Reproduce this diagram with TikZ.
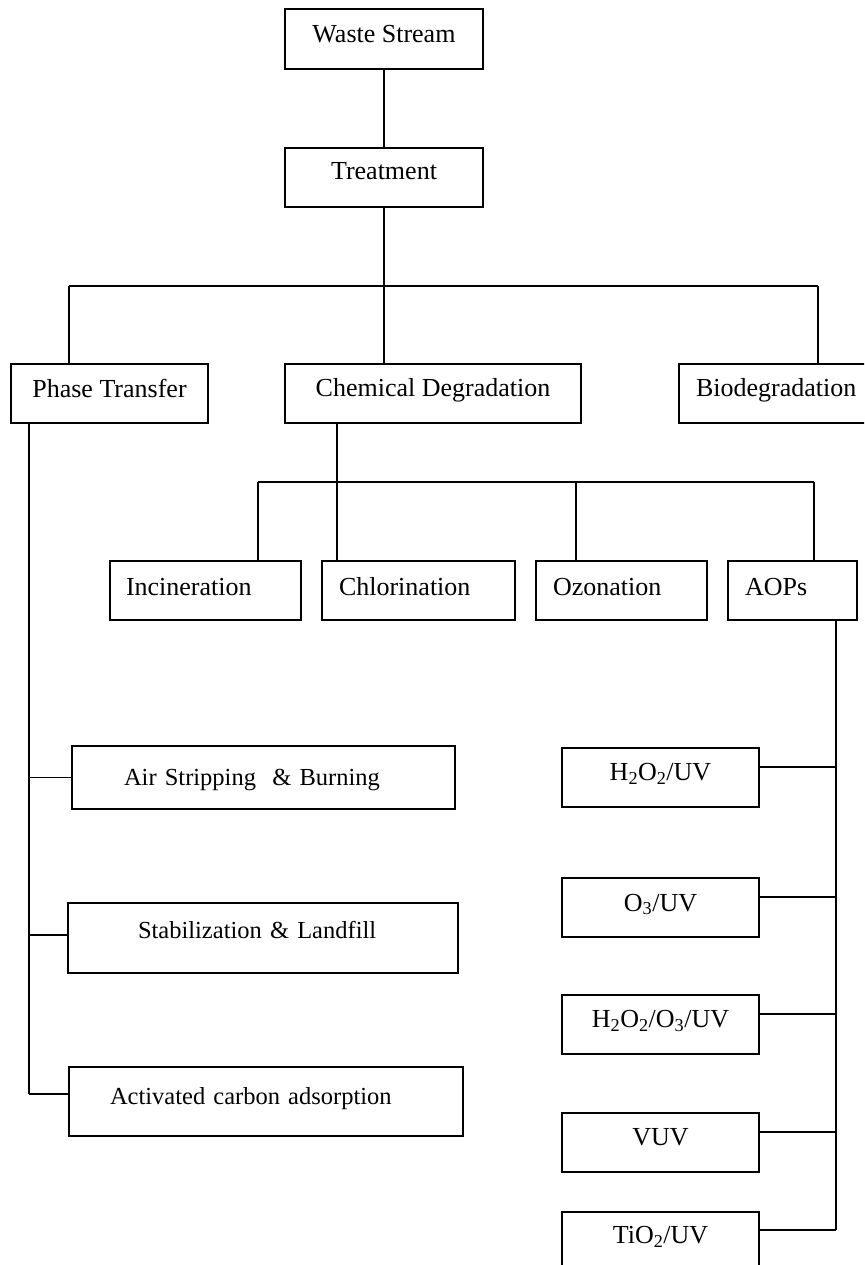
\documentclass[tikz,border=0pt]{standalone}
\usepackage{fontspec}
\setmainfont{Liberation Serif}
\begin{document}
\begin{tikzpicture}[x=1pt,y=-1pt,
  every node/.style={font=\fontsize{26}{31}\selectfont},
  box/.style={draw,line width=1.5pt,rectangle,inner sep=0pt,align=center,text height=18pt},
  lbox/.style={draw,line width=1.5pt,rectangle,inner sep=0pt,align=left,text height=18pt},
  small/.style={font=\fontsize{24.5}{29}\selectfont},
  conn/.style={line width=1.5pt}]
\useasboundingbox (0,0) rectangle (864,1265);
\clip (0,0) rectangle (864,1265);
% top
\node[box,minimum width=198pt,minimum height=60pt,text depth=10pt] (waste) at (384,39) {Waste Stream};
\node[box,minimum width=198pt,minimum height=59pt,text depth=13pt] (treat) at (384,177.5) {Treatment};
% level 2
\node[box,minimum width=197pt,minimum height=59pt,text depth=10pt] (phase) at (109.5,393.5) {Phase Transfer};
\node[box,minimum width=296pt,minimum height=59pt,text depth=12pt] (chem) at (433,393.5) {Chemical Degradation};
\node[lbox,text width=211pt,minimum height=59pt,text depth=13pt] (bio) at (784.5,393.5) {\hspace*{17pt}Biodegradation};
% level 3
\node[lbox,text width=191pt,minimum height=59pt,text depth=9pt] (incin) at (205.5,590.5) {\hspace*{16pt}Incineration};
\node[lbox,text width=193pt,minimum height=59pt,text depth=9pt] (chlor) at (418.5,590.5) {\hspace*{17pt}Chlorination};
\node[lbox,text width=171pt,minimum height=59pt,text depth=9pt] (ozon) at (621.5,590.5) {\hspace*{17pt}Ozonation};
\node[lbox,text width=129pt,minimum height=59pt,text depth=9pt] (aops) at (792.5,590.5) {\hspace*{17pt}AOPs};
% phase transfer children
\node[lbox,small,text width=383pt,minimum height=63pt,text depth=3pt] (air) at (263.5,777.5) {\hspace*{52pt}Air Stripping\ \ \& Burning};
\node[lbox,small,text width=390pt,minimum height=70pt,text depth=18pt] (stab) at (263,938) {\hspace*{70pt}Stabilization \& Landfill};
\node[lbox,small,text width=394pt,minimum height=69pt,text depth=13pt] (act) at (266,1101.5) {\hspace*{41pt}Activated carbon adsorption};
% AOP children
\node[box,minimum width=197pt,minimum height=59pt,text depth=12pt] (h2o2) at (660.5,777.5) {H\textsubscript{2}O\textsubscript{2}/UV};
\node[box,minimum width=197pt,minimum height=59pt,text depth=11pt] (o3) at (660.5,907.5) {O\textsubscript{3}/UV};
\node[box,minimum width=197pt,minimum height=59pt,text depth=12pt] (h2o2o3) at (660.5,1024.5) {H\textsubscript{2}O\textsubscript{2}/O\textsubscript{3}/UV};
\node[box,minimum width=197pt,minimum height=59pt,text depth=12pt] (vuv) at (660.5,1142.5) {VUV};
\node[box,minimum width=197pt,minimum height=59pt,text depth=14pt] (tio2) at (660.5,1241.5) {TiO\textsubscript{2}/UV};
% bus coordinates
\coordinate (bL) at (69,286);
\coordinate (bM) at (384,286);
\coordinate (bR) at (818,286);
\coordinate (cL) at (258,482);
\coordinate (cC) at (337,482);
\coordinate (cO) at (576,482);
\coordinate (cR) at (814,482);
\coordinate (pv) at (29,0);
\coordinate (av) at (836,0);
% connection points
\coordinate (airP) at (air.west);
\coordinate (stabP) at ([yshift=3pt]stab.west);
\coordinate (actP) at ([yshift=7.5pt]act.west);
\coordinate (h2o2P) at ([yshift=10.5pt]h2o2.east);
\coordinate (o3P) at ([yshift=10.5pt]o3.east);
\coordinate (h2o2o3P) at ([yshift=10.5pt]h2o2o3.east);
\coordinate (vuvP) at ([yshift=10.5pt]vuv.east);
\coordinate (tio2P) at ([yshift=11.5pt]tio2.east);
% connectors
\draw[conn] (waste.south) -- (treat.north);
\draw[conn] (treat.south) -- (bM);
\draw[conn] (bL) -- (bR);
\draw[conn] (bL) -- (bL |- phase.north);
\draw[conn] (bM) -- (bM |- chem.north);
\draw[conn] (bR) -- (bR |- bio.north);
\draw[conn] (cC |- chem.south) -- (cC |- chlor.north);
\draw[conn] (cL) -- (cR);
\draw[conn] (cL) -- (cL |- incin.north);
\draw[conn] (cO) -- (cO |- ozon.north);
\draw[conn] (cR) -- (cR |- aops.north);
% phase transfer branch
\draw[conn] (pv |- phase.south) -- (pv |- actP);
\draw[conn] (pv |- airP) -- (airP);
\draw[conn] (pv |- stabP) -- (stabP);
\draw[conn] (pv |- actP) -- (actP);
% AOP branch
\draw[conn] (av |- aops.south) -- (av |- tio2P);
\draw[conn] (h2o2P) -- (av |- h2o2P);
\draw[conn] (o3P) -- (av |- o3P);
\draw[conn] (h2o2o3P) -- (av |- h2o2o3P);
\draw[conn] (vuvP) -- (av |- vuvP);
\draw[conn] (tio2P) -- (av |- tio2P);
\end{tikzpicture}
\end{document}
